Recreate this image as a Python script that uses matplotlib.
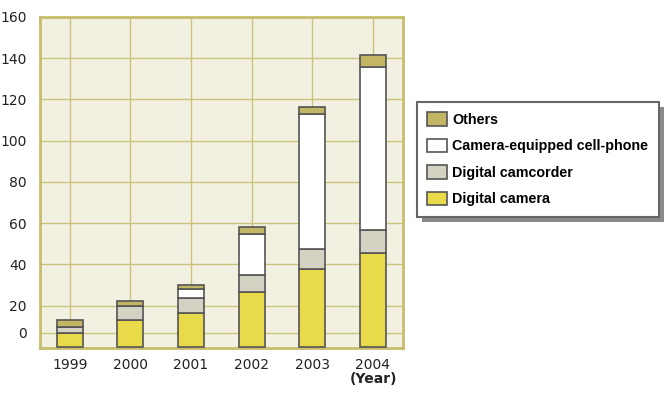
import matplotlib
matplotlib.use('Agg')
import matplotlib.pyplot as plt
from matplotlib.patches import Rectangle
import numpy as np

years = ['1999', '2000', '2001', '2002', '2003', '2004']
digital_camera = [6.7, 13.0, 16.4, 26.6, 37.8, 45.5]
camcorder = [2.9, 6.8, 7.3, 8.3, 9.7, 11.2]
cell_phone = [0.0, 0.0, 4.4, 19.9, 65.6, 79.2]
others = [3.4, 2.4, 1.9, 3.4, 3.4, 5.5]

# the picture puts its "0" gridline a bit above the bar base
ytick_pos = [6.8, 20, 40, 60, 80, 100, 120, 140, 160]
ytick_labels = ['0', '20', '40', '60', '80', '100', '120', '140', '160']

series = [
    ('Digital camera', digital_camera, '#E8DA48'),
    ('Digital camcorder', camcorder, '#D4D2C3'),
    ('Camera-equipped cell-phone', cell_phone, '#FFFFFF'),
    ('Others', others, '#C2B665'),
]

grid_c = '#CBC47E'
fig = plt.figure(figsize=(6.65, 3.94), dpi=100)
ax = fig.add_axes([39.5 / 665, 1 - 348 / 394, (403 - 39.5) / 665, (348 - 17) / 394])
ax.set_facecolor('#F2F0E0')

x = np.arange(len(years))
bottom = np.zeros(len(years))
bars = {}
for name, vals, col in series:
    vals = np.array(vals)
    b = ax.bar(x, vals, width=0.43, bottom=bottom, color=col,
               edgecolor='#555555', linewidth=1.2, zorder=3)
    bars[name] = b
    bottom += vals

ax.set_xlim(-0.5, 5.5)
ax.set_ylim(-0.5, 160)
ax.set_xticks(x)
ax.set_xticklabels(years, fontsize=10, color='#222222')
ax.set_yticks(ytick_pos)
ax.set_yticklabels(ytick_labels, fontsize=10, color='#222222')
ax.tick_params(length=0)
ax.tick_params(axis='y', pad=9)
ax.tick_params(axis='x', pad=7)
ax.grid(True, color=grid_c, linewidth=1, zorder=0)
ax.set_axisbelow(True)
for s in ax.spines.values():
    s.set_color('#C8BD6C')
    s.set_linewidth(2)

fig.text(373 / 665, 1 - 379 / 394, '(Year)', ha='center', va='center',
         fontsize=10, fontweight='bold', color='#222222')

order = ['Others', 'Camera-equipped cell-phone', 'Digital camcorder', 'Digital camera']
leg = fig.legend([bars[n] for n in order], order,
                 loc='upper left', bbox_to_anchor=(417 / 665, 1 - 102 / 394),
                 borderaxespad=0,
                 prop={'family': 'Liberation Sans', 'weight': 'bold', 'size': 10.3},
                 frameon=True, fancybox=False, edgecolor='#666666',
                 facecolor='white', framealpha=1,
                 handlelength=1.35, handleheight=1.1, handletextpad=0.4,
                 labelspacing=0.82, borderpad=0.72)
leg.get_frame().set_linewidth(1.5)
leg.set_zorder(5)

fig.canvas.draw()
bb = leg.get_window_extent().transformed(fig.transFigure.inverted())
shadow = Rectangle((bb.x0 + 5 / 665, bb.y0 - 5 / 394), bb.width, bb.height,
                   transform=fig.transFigure, facecolor='#8A8A8A',
                   edgecolor='none', zorder=4)
fig.patches.append(shadow)

fig.savefig('out.png', dpi=100)
